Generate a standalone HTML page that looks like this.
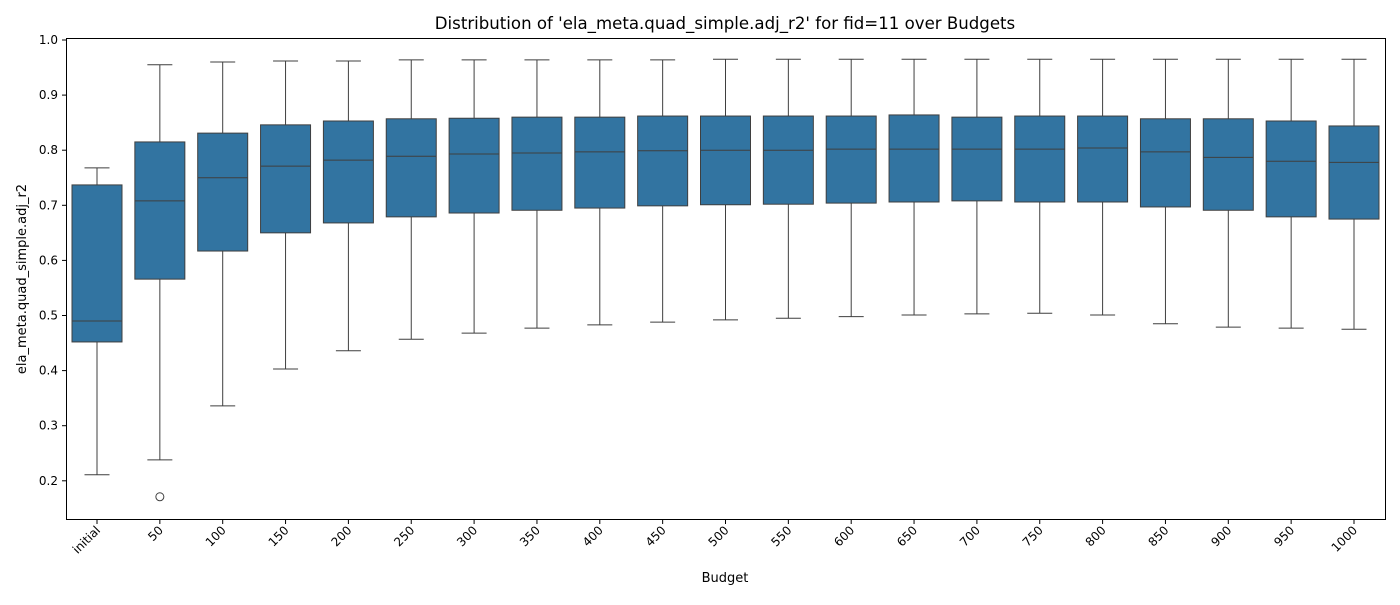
<!DOCTYPE html>
<html><head><meta charset="utf-8"><style>
body{margin:0;background:#fff;font-family:"Liberation Sans","DejaVu Sans",sans-serif}
svg text{font-family:"DejaVu Sans","Liberation Sans",sans-serif;fill:#000}
</style></head><body>
<svg id="chart" width="1400" height="600" xmlns="http://www.w3.org/2000/svg">
<text x="725" y="29" font-size="16.6" text-anchor="middle">Distribution of 'ela_meta.quad_simple.adj_r2' for fid=11 over Budgets</text>
<text x="725" y="582" font-size="13" text-anchor="middle">Budget</text>
<text transform="translate(26,279) rotate(-90)" font-size="13" text-anchor="middle">ela_meta.quad_simple.adj_r2</text>
<g id="marks"></g>
<rect x="66.5" y="38.5" width="1319" height="481" fill="none" stroke="#000" stroke-width="1"/>
</svg>
<script>
const categories=["initial","50","100","150","200","250","300","350","400","450","500","550","600","650","700","750","800","850","900","950","1000"];
const whiskerLow=[0.211,0.238,0.336,0.403,0.436,0.457,0.468,0.477,0.483,0.488,0.492,0.495,0.498,0.501,0.503,0.504,0.501,0.485,0.479,0.477,0.475];
const q1=[0.452,0.566,0.617,0.650,0.668,0.679,0.686,0.691,0.695,0.699,0.701,0.702,0.704,0.706,0.708,0.706,0.706,0.697,0.691,0.679,0.675];
const medians=[0.490,0.708,0.750,0.771,0.782,0.789,0.793,0.795,0.797,0.799,0.800,0.800,0.802,0.802,0.802,0.802,0.804,0.797,0.787,0.780,0.778];
const q3=[0.737,0.815,0.831,0.846,0.853,0.857,0.858,0.860,0.860,0.862,0.862,0.862,0.862,0.864,0.860,0.862,0.862,0.857,0.857,0.853,0.844];
const whiskerHigh=[0.768,0.955,0.960,0.962,0.962,0.964,0.964,0.964,0.964,0.964,0.965,0.965,0.965,0.965,0.965,0.965,0.965,0.965,0.965,0.965,0.965];
const outliers=[[1,0.171]];
const yTicks=[0.2,0.3,0.4,0.5,0.6,0.7,0.8,0.9,1.0];
const NS="http://www.w3.org/2000/svg";
const y=v=>40+(1.0-v)*551;
const x=i=>97+i*62.85;
const g=document.getElementById('marks');
function mk(t,a){const e=document.createElementNS(NS,t);for(const k in a)e.setAttribute(k,a[k]);g.appendChild(e);return e;}
yTicks.forEach(t=>{
 const l=mk('line',{x1:62,x2:66,y1:y(t),y2:y(t),stroke:'#000'});
 
 
 const tx=mk('text',{x:58,y:y(t)+4,'font-size':12,'text-anchor':'end'});tx.textContent=t.toFixed(1);
 
 
});
const c='#3f3f3f',hw=25;
categories.forEach((cat,i)=>{
 const cx=x(i);
 const grp=document.createElementNS(NS,'g');g.appendChild(grp);
 
 
 const add=(t,a)=>{const e=document.createElementNS(NS,t);for(const k in a)e.setAttribute(k,a[k]);grp.appendChild(e);return e;};
 add('line',{x1:cx,x2:cx,y1:y(whiskerLow[i]),y2:y(q1[i]),stroke:c});
 add('line',{x1:cx,x2:cx,y1:y(q3[i]),y2:y(whiskerHigh[i]),stroke:c});
 add('line',{x1:cx-hw/2,x2:cx+hw/2,y1:y(whiskerLow[i]),y2:y(whiskerLow[i]),stroke:c});
 add('line',{x1:cx-hw/2,x2:cx+hw/2,y1:y(whiskerHigh[i]),y2:y(whiskerHigh[i]),stroke:c});
 add('rect',{x:cx-hw,y:y(q3[i]),width:hw*2,height:y(q1[i])-y(q3[i]),fill:'#3274a1',stroke:c});
 add('line',{x1:cx-hw,x2:cx+hw,y1:y(medians[i]),y2:y(medians[i]),stroke:c});
 const tk=mk('line',{x1:cx,x2:cx,y1:520,y2:524,stroke:'#000'});
 
 
 const lb=mk('text',{'font-size':12,'text-anchor':'end',transform:`translate(${cx+4},${531}) rotate(-45)`});lb.textContent=cat;
 
 
});
outliers.forEach(o=>{
 const p=mk('circle',{cx:x(o[0]),cy:y(o[1]),r:4,fill:'none',stroke:c});
 
 
});
</script>
</body></html>
